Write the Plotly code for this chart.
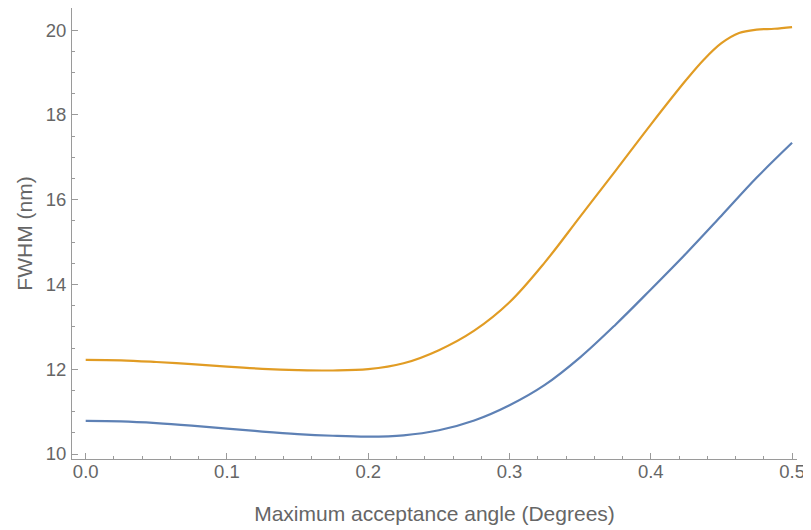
import plotly.graph_objects as go

x_blue = [0.0, 0.025, 0.05, 0.075, 0.1, 0.125, 0.15, 0.175, 0.2, 0.225, 0.25,
          0.275, 0.3, 0.325, 0.35, 0.375, 0.4, 0.425, 0.45, 0.475, 0.5]
y_blue = [10.78, 10.77, 10.73, 10.67, 10.60, 10.53, 10.47, 10.43, 10.41, 10.44, 10.56,
          10.79, 11.15, 11.63, 12.28, 13.05, 13.88, 14.73, 15.62, 16.52, 17.34]

x_orange = [0.0, 0.025, 0.05, 0.075, 0.1, 0.125, 0.15, 0.175, 0.2, 0.225, 0.25,
            0.275, 0.3, 0.325, 0.35, 0.375, 0.4, 0.425, 0.4375, 0.45, 0.4625,
            0.475, 0.4875, 0.5]
y_orange = [12.22, 12.21, 12.17, 12.12, 12.06, 12.01, 11.98, 11.97, 12.00, 12.14, 12.45,
            12.91, 13.58, 14.52, 15.60, 16.68, 17.77, 18.82, 19.30, 19.69, 19.93,
            20.01, 20.03, 20.07]

x_title = "Maximum acceptance angle (Degrees)"
y_title = "FWHM (nm)"

fig = go.Figure()
fig.add_trace(go.Scatter(x=x_blue, y=y_blue, mode="lines",
                         line=dict(color="#5E81B5", width=2.2, shape="spline", smoothing=1),
                         showlegend=False))
fig.add_trace(go.Scatter(x=x_orange, y=y_orange, mode="lines",
                         line=dict(color="#E19C24", width=2.2, shape="spline", smoothing=1),
                         showlegend=False))

family = "Liberation Sans, Arial, sans-serif"
tick_font = dict(family=family, size=18.5, color="#666666")
title_font = dict(family=family, size=21, color="#666666")

fig.update_layout(
    width=803, height=522,
    margin=dict(l=64, r=14, t=0, b=71),
    plot_bgcolor="white", paper_bgcolor="white",
    font=tick_font,
)
fig.update_xaxes(
    range=[-0.0097, 0.5035], showgrid=False, zeroline=False,
    showline=True, linecolor="#9a9a9a", linewidth=1,
    ticks="inside", ticklen=6, tickcolor="#9a9a9a",
    tickvals=[0, 0.1, 0.2, 0.3, 0.4, 0.5], tickformat=".1f",
    ticklabelstandoff=-4,
    minor=dict(dtick=0.02, ticks="inside", ticklen=3, tickcolor="#9a9a9a", tick0=0),
    title=dict(text=x_title, standoff=25, font=title_font),
    tickfont=tick_font,
)
fig.update_yaxes(
    range=[9.882, 20.52], showgrid=False, zeroline=False,
    showline=True, linecolor="#9a9a9a", linewidth=1,
    ticks="inside", ticklen=6, tickcolor="#9a9a9a",
    tickvals=[10, 12, 14, 16, 18, 20],
    ticklabelstandoff=1,
    minor=dict(dtick=0.5, ticks="inside", ticklen=3, tickcolor="#9a9a9a", tick0=10),
    title=dict(text=y_title, standoff=7, font=title_font),
    tickfont=tick_font,
)

fig.write_html("out.html")
